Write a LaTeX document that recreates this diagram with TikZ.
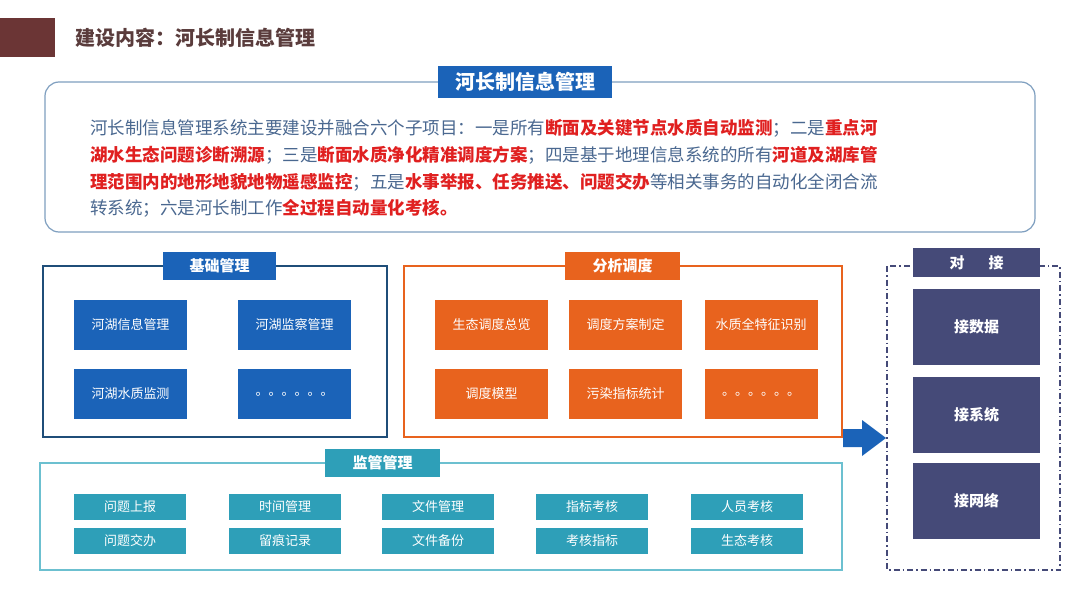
\documentclass[tikz,border=0pt]{standalone}
\usepackage{fontspec}
\setmainfont{Noto Sans CJK SC}
\begin{document}
\begin{tikzpicture}[x=1pt,y=-1pt,
  bl/.style={fill=blue1,text=white,font=\fontsize{13}{13}\selectfont},
  tab/.style={text=white,font=\bfseries\fontsize{15}{15}\selectfont},
  rd/.style={text=redc,font=\bfseries}]
\definecolor{blue1}{HTML}{1B63B8}
\definecolor{org}{HTML}{E8631E}
\definecolor{teal1}{HTML}{2E9FB8}
\definecolor{navy}{HTML}{454A78}
\definecolor{redc}{HTML}{E02020}
\definecolor{txt}{HTML}{4A6890}
\useasboundingbox (0,0) rectangle (1080,608);
\fill[fill=white] (0,0) rectangle (1080,608);
\fill[fill={rgb,255:red,107;green,53;blue,53}] (0,18) rectangle (55,57);
\node[anchor=west,text={rgb,255:red,90;green,60;blue,60},font=\bfseries\fontsize{20}{20}\selectfont] (title) at (72,38) {建设内容：河长制信息管理};
\draw[color={rgb,255:red,127;green,159;blue,192},rounded corners=14,line width=1.2] (45,82) rectangle (1035,232);
\node[fill=blue1,tab,font=\bfseries\fontsize{20}{20}\selectfont,minimum width=174,minimum height=32,inner sep=0] (hd) at (525,82) {河长制信息管理};
\begin{scope}[every node/.style={anchor=west,inner sep=0,text=txt,font=\fontsize{17.5}{17.5}\selectfont}]
\node (l1) at (90,128) {河长制信息管理系统主要建设并融合六个子项目：一是所有\textcolor{redc}{\bfseries 断面及关键节点水质自动监测}；二是\textcolor{redc}{\bfseries 重点河}};
\node (l2) at (90,155) {\textcolor{redc}{\bfseries 湖水生态问题诊断溯源}；三是\textcolor{redc}{\bfseries 断面水质净化精准调度方案}；四是基于地理信息系统的所有\textcolor{redc}{\bfseries 河道及湖库管}};
\node (l3) at (90,182) {\textcolor{redc}{\bfseries 理范围内的地形地貌地物遥感监控}；五是\textcolor{redc}{\bfseries 水事举报、任务推送、问题交办}等相关事务的自动化全闭合流};
\node (l4) at (90,208) {转系统；六是河长制工作\textcolor{redc}{\bfseries 全过程自动量化考核。}};
\end{scope}
% 基础管理
\draw[color={rgb,255:red,31;green,78;blue,121},line width=1.2] (43,266) rectangle (387,437);
\node[fill=blue1,tab,minimum width=113,minimum height=28,inner sep=0] (t1) at (219.5,266) {基础管理};
\foreach \n/\x/\y/\t in {a/130.5/325/河湖信息管理,b/294.5/325/河湖监察管理,c/130.5/394/河湖水质监测,d/294.5/394/。。。。。。}
  \node[fill=blue1,text=white,font=\fontsize{13}{13}\selectfont,minimum width=113,minimum height=50,inner sep=0] (\n) at (\x,\y) {\t};
% 分析调度
\draw[color=org,line width=1.2] (404,266) rectangle (842,437);
\node[fill=org,tab,minimum width=115,minimum height=28,inner sep=0] (t2) at (622.5,266) {分析调度};
\foreach \n/\x/\y/\t in {e/491.5/325/生态调度总览,f/625.5/325/调度方案制定,g/761/325/水质全特征识别,h/491.5/394/调度模型,i/625.5/394/污染指标统计,j/761/394/。。。。。。}
  \node[fill=org,text=white,font=\fontsize{13}{13}\selectfont,minimum width=113,minimum height=50,inner sep=0] (\n) at (\x,\y) {\t};
% 监管管理
\draw[color={rgb,255:red,108;green,192;blue,208},line width=1.2] (40,463) rectangle (842,570);
\node[fill=teal1,tab,minimum width=115,minimum height=28,inner sep=0] (t3) at (382.5,463) {监管管理};
\foreach \n/\x/\y/\t in {m1/130/507/问题上报,m2/285/507/时间管理,m3/438/507/文件管理,m4/592/507/指标考核,m5/747/507/人员考核,
  n1/130/541/问题交办,n2/285/541/留痕记录,n3/438/541/文件备份,n4/592/541/考核指标,n5/747/541/生态考核}
  \node[fill=teal1,text=white,font=\fontsize{13}{13}\selectfont,minimum width=112,minimum height=26,inner sep=0] (\n) at (\x,\y) {\t};
% 对接
\draw[color=navy,line width=1.2,dash pattern=on 6pt off 3pt on 1.5pt off 3pt] (887,266) rectangle (1060,570);
\node[fill=navy,text=white,font=\bfseries\fontsize{15}{15}\selectfont,minimum width=127,minimum height=29,inner sep=0] (dj) at (976.5,262.5) {对\hspace{1.6em}接};
\foreach \n/\y/\t in {p1/327/接数据,p2/415/接系统,p3/501/接网络}
  \node[fill=navy,text=white,font=\bfseries\fontsize{15}{15}\selectfont,minimum width=127,minimum height=76,inner sep=0] (\n) at (976.5,\y) {\t};
\coordinate (as) at (843,438);
\fill[fill=blue1] (843,429) -- (862,429) -- (862,420) -- (886,438) -- (862,456) -- (862,447) -- (843,447) -- cycle;
\end{tikzpicture}
\end{document}
